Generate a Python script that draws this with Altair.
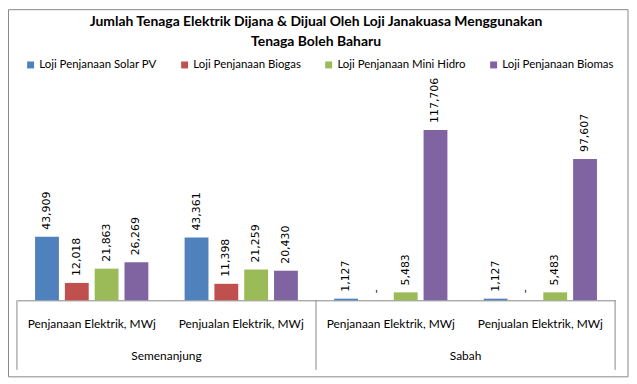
import altair as alt
import pandas as pd

regions = ["Semenanjung", "Sabah"]
categories = ["Penjanaan Elektrik, MWj", "Penjualan Elektrik, MWj"]
series = ["Loji Penjanaan Solar PV", "Loji Penjanaan Biogas",
          "Loji Penjanaan Mini Hidro", "Loji Penjanaan Biomas"]
colors = ["#4F81BD", "#C0504D", "#9BBB59", "#8064A2"]
# values per series, in order: Semenanjung-Penjanaan, Semenanjung-Penjualan, Sabah-Penjanaan, Sabah-Penjualan
solar = [43909, 43361, 1127, 1127]
biogas = [12018, 11398, 0, 0]
hidro = [21863, 21259, 5483, 5483]
biomas = [26269, 20430, 117706, 97607]
title_lines = ["Jumlah Tenaga Elektrik Dijana & Dijual Oleh Loji Janakuasa Menggunakan",
               "Tenaga Boleh Baharu"]

groups = [(r, c) for r in regions for c in categories]
rows = []
for s, vals in zip(series, [solar, biogas, hidro, biomas]):
    for (r, c), v in zip(groups, vals):
        rows.append({"grp": r + "|" + c, "series": s, "v": v})
df = pd.DataFrame(rows)
grp_order = [r + "|" + c for r, c in groups]

reg_rows = []
for i, r in enumerate(regions):
    reg_rows.append({"pos": i * 2 + 1, "region": r})
bounds = pd.DataFrame({"pos": list(range(0, len(grp_order) + 1, 2))})
reg_df = pd.DataFrame(reg_rows)

FONT = "Lato"
NUM_FONT = "DejaVu Sans"

x_scale = alt.Scale(paddingInner=0.2027, paddingOuter=0.1013)
x_enc = alt.X("grp:N", sort=grp_order, scale=x_scale,
              axis=alt.Axis(title=None, ticks=False, labelPadding=18,
                            labelExpr="split(datum.label, '|')[1]",
                            labelFont=FONT, labelFontSize=12, labelColor="#000000",
                            domainColor="#868686", labelAngle=0))
xo_enc = alt.XOffset("series:N", sort=series,
                     scale=alt.Scale(paddingInner=0.2, paddingOuter=0.1))
y_enc = alt.Y("v:Q", scale=alt.Scale(domain=[0, 140000]), axis=None)

base = alt.Chart(df)
bars = base.mark_bar().encode(
    x=x_enc, xOffset=xo_enc, y=y_enc,
    color=alt.Color("series:N", sort=series,
                    scale=alt.Scale(domain=series, range=colors),
                    legend=alt.Legend(title=None, orient="none", legendX=8, legendY=-39,
                                      direction="horizontal", symbolType="square",
                                      symbolSize=49, symbolStrokeWidth=0,
                                      labelFont=FONT, labelFontSize=11.5, labelColor="#000000",
                                      labelOffset=3, columnPadding=22))
)
labels = base.transform_calculate(
    lab="datum.v == 0 ? '-' : format(datum.v, ',')"
).mark_text(angle=270, align="left", baseline="middle", dx=7,
            font=NUM_FONT, fontSize=11, color="#000000").encode(
    x=x_enc, xOffset=xo_enc, y=y_enc, text="lab:N")

bar_layer = alt.layer(bars, labels)

pos_scale = alt.Scale(domain=[0, len(grp_order)])
rules = alt.Chart(bounds).mark_rule(color="#868686").encode(
    x=alt.X("pos:Q", scale=pos_scale, axis=None),
    y=alt.value(204), y2=alt.value(274))
reg_text = alt.Chart(reg_df).mark_text(font=FONT, fontSize=12, color="#000000",
                                       baseline="middle").encode(
    x=alt.X("pos:Q", scale=pos_scale, axis=None),
    y=alt.value(260), text="region:N")
border = alt.Chart(alt.Data(values=[{}])).mark_rect(fill=None, stroke="#888888").encode(
    x=alt.value(-8.5), x2=alt.value(615), y=alt.value(-88.5), y2=alt.value(281))

chart = alt.layer(bar_layer, rules, reg_text, border).resolve_scale(
    x="independent"
).properties(
    width=602, height=204,
    autosize=alt.AutoSizeParams(type="none"),
    padding={"left": 9, "top": 89, "right": 14, "bottom": 78},
    title=alt.TitleParams(text=title_lines, font=FONT, fontSize=14, fontWeight="bold",
                          color="#000000", anchor="middle", frame="group",
                          offset=-40, lineHeight=20)
).configure_view(stroke=None)

chart.save("out.html", embed_options={"renderer": "svg", "actions": False})
